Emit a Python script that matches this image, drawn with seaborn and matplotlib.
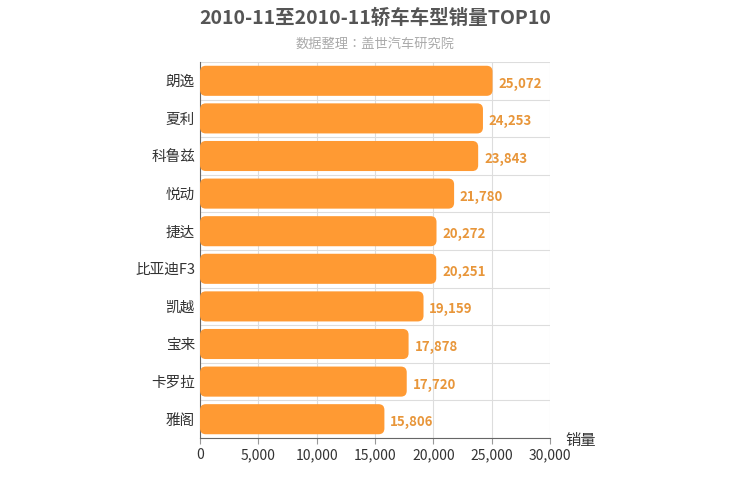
import matplotlib
matplotlib.use("Agg")
import matplotlib.pyplot as plt
from matplotlib import font_manager as fm
import seaborn as sns
import pandas as pd
from matplotlib.patches import FancyBboxPatch

categories = ["朗逸", "夏利", "科鲁兹", "悦动", "捷达", "比亚迪F3", "凯越", "宝来", "卡罗拉", "雅阁"]
values = [25072, 24253, 23843, 21780, 20272, 20251, 19159, 17878, 17720, 15806]
xticks = [0, 5000, 10000, 15000, 20000, 25000, 30000]

fam = None
for f in fm.findSystemFonts():
    if "CJK" in f and ("SC" in f or "Sans" in f):
        try:
            fm.fontManager.addfont(f)
            name = fm.FontProperties(fname=f).get_name()
            if fam is None or "SC" in name:
                fam = name
        except Exception:
            pass
plt.rcParams["font.family"] = [fam or "Noto Sans CJK SC", "DejaVu Sans"]
df = pd.DataFrame({"cat": categories, "val": values})

fig = plt.figure(figsize=(7.5, 5), dpi=100)
ax = fig.add_axes([200/750, 62/500, 350/750, 376/500])
sns.barplot(data=df, x="val", y="cat", color="#ff9933", width=0.8, ax=ax, saturation=1)

asp = (6*10/376) / (6*30000/350)
for p in list(ax.patches):
    x0, y0, w, h = p.get_x(), p.get_y(), p.get_width(), p.get_height()
    p.remove()
    ax.add_patch(FancyBboxPatch((x0, y0), w, h, boxstyle="round,pad=0,rounding_size=500",
                                mutation_aspect=asp, fc="#ff9a33", ec="none", zorder=3))
    ax.text(x0 + w + 500, y0 + h/2 + 0.08, f"{w:,.0f}", va="center", ha="left",
            fontsize=9.5, color="#e8963a", fontweight="bold")

ax.set_xlim(0, 30000)
ax.set_ylim(9.5, -0.5)
ax.set_xticks(xticks)
ax.set_xticklabels([f"{v:,}" for v in xticks], fontsize=10, color="#333")
ax.set_yticks([i + 0.5 for i in range(-1, 10)], minor=True)
ax.tick_params(axis="y", which="major", length=0, labelsize=10.5, labelcolor="#333")
ax.tick_params(axis="y", which="minor", length=0)
ax.tick_params(axis="x", length=4, color="#999")
ax.grid(axis="x", color="#dddddd", lw=0.8, zorder=0)
ax.grid(axis="y", which="minor", color="#dddddd", lw=0.8, zorder=0)
ax.set_axisbelow(True)
ax.set_xlabel(""); ax.set_ylabel("")
for s in ["top", "right"]:
    ax.spines[s].set_visible(False)
for s in ["left", "bottom"]:
    ax.spines[s].set_color("#666")

fig.text(375/750, 1 - 18/500, "2010-11至2010-11轿车车型销量TOP10", ha="center", va="center",
         fontsize=14, fontweight="bold", color="#555")
fig.text(375/750, 1 - 44/500, "数据整理：盖世汽车研究院", ha="center", va="center",
         fontsize=9.5, color="#aaaaaa")
fig.text(565/750, 1 - 440/500, "销量", ha="left", va="center", fontsize=11, color="#333")
fig.savefig("out.png", dpi=100)
